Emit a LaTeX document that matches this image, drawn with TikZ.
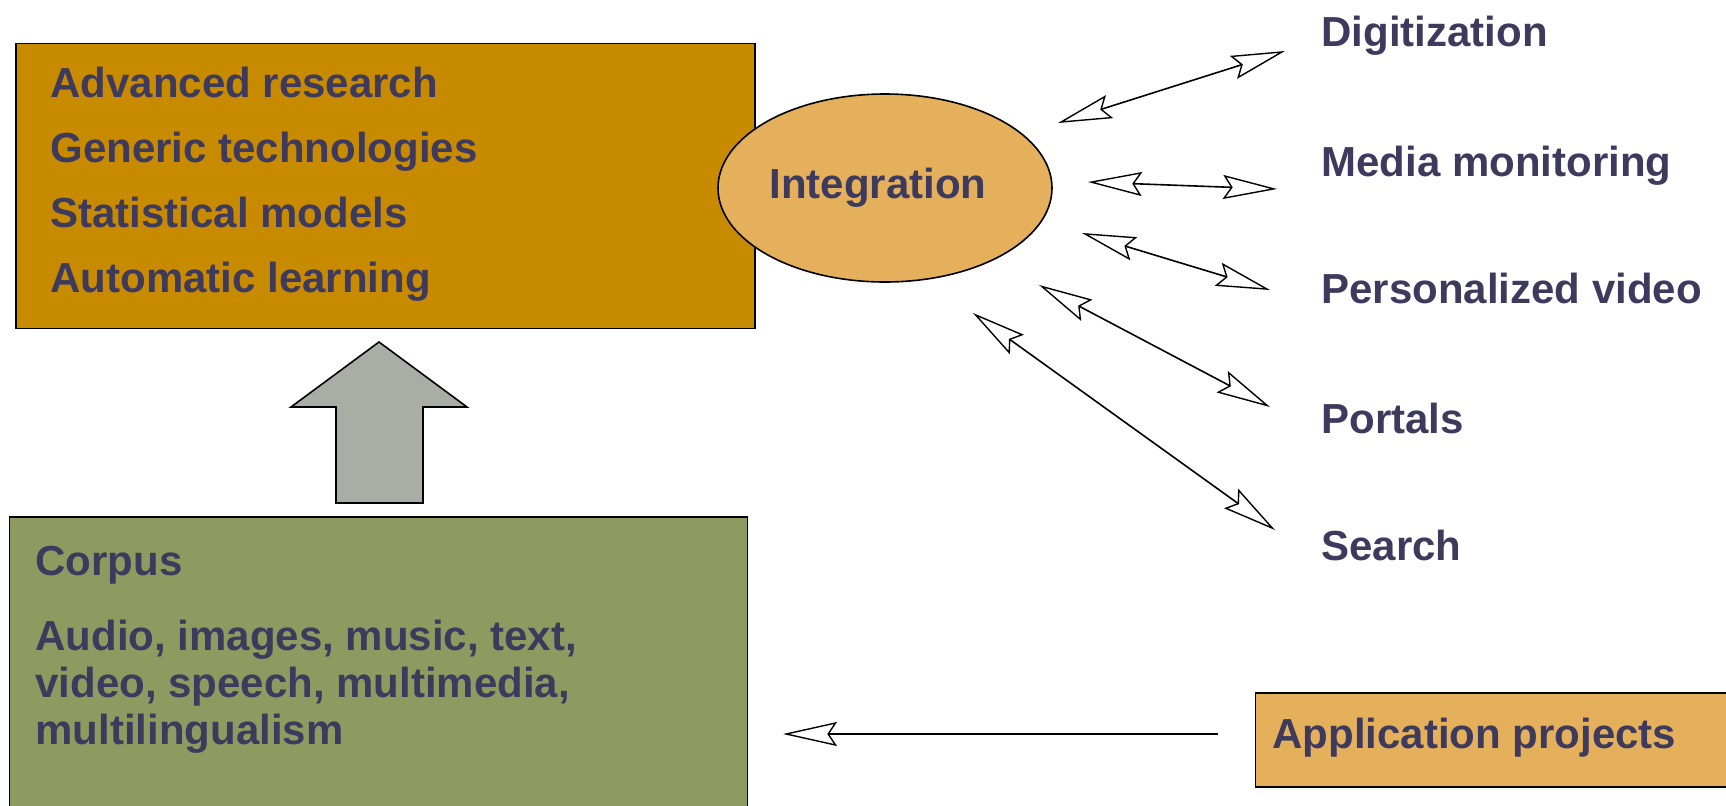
\documentclass[tikz,border=0pt]{standalone}
\usepackage{fontspec}
\setmainfont{Liberation Sans}
\usetikzlibrary{arrows.meta,shapes.geometric}
\definecolor{txt}{HTML}{3D3A5E}
\definecolor{brownbox}{HTML}{C88B00}
\definecolor{lightorange}{HTML}{E5B05C}
\definecolor{greenbox}{HTML}{8E9B60}
\definecolor{graybox}{HTML}{A9ADA6}
\tikzset{
  lbl/.style={anchor=base west, inner sep=0pt, text=txt, font=\fontsize{21}{25}\selectfont\bfseries},
  boxframe/.style={draw=black, line width=0.9pt},
  opentip/.tip={Stealth[open, length=27pt, width=12pt, inset=4pt, line width=0.7pt]},
  dblarrow/.style={line width=0.8pt, opentip-opentip},
  onearrow/.style={line width=0.9pt, -opentip}
}
\begin{document}
\begin{tikzpicture}[x=0.5pt,y=-0.5pt]
\useasboundingbox (0,0) rectangle (1726,805);
% boxes
\node[boxframe, fill=brownbox, rectangle, minimum width=369.5pt, minimum height=142.5pt, inner sep=0pt, anchor=north west] (research) at (15,42.5) {};
\node[boxframe, fill=greenbox, rectangle, minimum width=369pt, minimum height=155pt, inner sep=0pt, anchor=north west] (corpus) at (8.5,516) {};
\node[boxframe, fill=lightorange, rectangle, minimum width=235.5pt, minimum height=47pt, inner sep=0pt, anchor=north west] (app) at (1254.5,692) {};
\node[draw=black, line width=0.8pt, fill=lightorange, ellipse, minimum width=167pt, minimum height=94pt, inner sep=0pt] (integ) at (885,188) {};
% up arrow
\draw[fill=graybox, draw=black, line width=0.8pt] (336,503) -- (336,407) -- (291,407) -- (379,342) -- (467,407) -- (423,407) -- (423,503) -- cycle;
% texts
\node[lbl] (t1) at (50,97) {Advanced research};
\node[lbl] (t2) at (50,162) {Generic technologies};
\node[lbl] (t3) at (50,227) {Statistical models};
\node[lbl] (t4) at (50,292) {Automatic learning};
\node[lbl] (ti) at (769,198) {Integration};
\node[lbl] (c1) at (35,575) {Corpus};
\node[lbl] (c2) at (35,650) {Audio, images, music, text,};
\node[lbl] (c3) at (35,697) {video, speech, multimedia,};
\node[lbl] (c4) at (35,744) {multilingualism};
\node[lbl] (ta) at (1272,748) {Application projects};
\node[lbl] (r1) at (1321,46) {Digitization};
\node[lbl] (r2) at (1321,176) {Media monitoring};
\node[lbl] (r3) at (1321,303) {Personalized video};
\node[lbl] (r4) at (1321,433) {Portals};
\node[lbl] (r5) at (1321,560) {Search};
% arrow endpoints
\coordinate (a1s) at (1058,123); \coordinate (a1e) at (1285,51);
\coordinate (a2s) at (1088,182); \coordinate (a2e) at (1277,189);
\coordinate (a3s) at (1082,233); \coordinate (a3e) at (1270,290);
\coordinate (a4s) at (1039,285); \coordinate (a4e) at (1270,407);
\coordinate (a5s) at (973,313);  \coordinate (a5e) at (1275,530);
\coordinate (a6s) at (1218,734); \coordinate (a6e) at (783,734);
\draw[dblarrow] (a1s) -- (a1e);
\draw[dblarrow] (a2s) -- (a2e);
\draw[dblarrow] (a3s) -- (a3e);
\draw[dblarrow] (a4s) -- (a4e);
\draw[dblarrow] (a5s) -- (a5e);
\draw[onearrow] (a6s) -- (a6e);
\end{tikzpicture}
\end{document}
